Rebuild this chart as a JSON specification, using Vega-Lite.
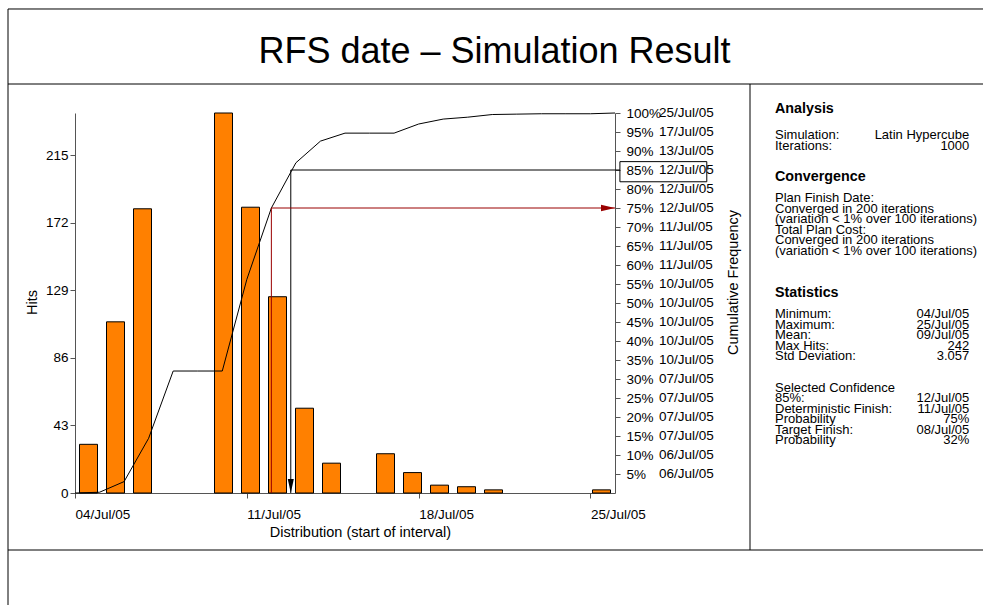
{
  "$schema": "https://vega.github.io/schema/vega-lite/v6.json",
  "width": 540,
  "height": 380,
  "autosize": {"type": "none"},
  "padding": {"left": 75, "top": 113, "right": 368, "bottom": 112},
  "view": {"stroke": null},
  "datasets": {
    "blank": [{"t": ""}],
    "hist": [
      {"date": "2005-07-04T13:12", "hits": 31},
      {"date": "2005-07-05T15:36", "hits": 109},
      {"date": "2005-07-06T18:00", "hits": 181},
      {"date": "2005-07-10T01:12", "hits": 242},
      {"date": "2005-07-11T03:36", "hits": 182},
      {"date": "2005-07-12T06:00", "hits": 125},
      {"date": "2005-07-13T08:24", "hits": 54},
      {"date": "2005-07-14T10:48", "hits": 19},
      {"date": "2005-07-16T15:36", "hits": 25},
      {"date": "2005-07-17T18:00", "hits": 13},
      {"date": "2005-07-18T20:24", "hits": 5},
      {"date": "2005-07-19T22:48", "hits": 4},
      {"date": "2005-07-21T01:12", "hits": 2},
      {"date": "2005-07-25T10:48", "hits": 2}
    ],
    "cum": [
      {"date": "2005-07-04T00:00", "pct": 0},
      {"date": "2005-07-05T00:00", "pct": 0.2},
      {"date": "2005-07-06T00:00", "pct": 3.0},
      {"date": "2005-07-07T00:00", "pct": 14.4},
      {"date": "2005-07-08T00:00", "pct": 32.1},
      {"date": "2005-07-09T00:00", "pct": 32.1},
      {"date": "2005-07-10T00:00", "pct": 32.1},
      {"date": "2005-07-11T00:00", "pct": 56.2},
      {"date": "2005-07-12T00:00", "pct": 75.0},
      {"date": "2005-07-13T00:00", "pct": 86.9},
      {"date": "2005-07-14T00:00", "pct": 92.6},
      {"date": "2005-07-15T00:00", "pct": 94.7},
      {"date": "2005-07-16T00:00", "pct": 94.7},
      {"date": "2005-07-17T00:00", "pct": 94.7},
      {"date": "2005-07-18T00:00", "pct": 97.1},
      {"date": "2005-07-19T00:00", "pct": 98.4},
      {"date": "2005-07-20T00:00", "pct": 98.9},
      {"date": "2005-07-21T00:00", "pct": 99.6},
      {"date": "2005-07-22T00:00", "pct": 99.7},
      {"date": "2005-07-23T00:00", "pct": 99.8},
      {"date": "2005-07-24T00:00", "pct": 99.8},
      {"date": "2005-07-25T00:00", "pct": 99.8},
      {"date": "2005-07-26T00:00", "pct": 100}
    ],
    "refs": [
      {"ref": "conf85", "step": 1, "date": "2005-07-26T04:48", "pct": 85},
      {"ref": "conf85", "step": 2, "date": "2005-07-12T19:00", "pct": 85},
      {"ref": "conf85", "step": 3, "date": "2005-07-12T19:00", "pct": 0},
      {"ref": "det", "step": 1, "date": "2005-07-12T00:00", "pct": 0},
      {"ref": "det", "step": 2, "date": "2005-07-12T00:00", "pct": 75},
      {"ref": "det", "step": 3, "date": "2005-07-26T00:00", "pct": 75}
    ],
    "rightLabels": [
      {"pct": 100, "label": "25/Jul/05"},
      {"pct": 95, "label": "17/Jul/05"},
      {"pct": 90, "label": "13/Jul/05"},
      {"pct": 85, "label": "12/Jul/05"},
      {"pct": 80, "label": "12/Jul/05"},
      {"pct": 75, "label": "12/Jul/05"},
      {"pct": 70, "label": "11/Jul/05"},
      {"pct": 65, "label": "11/Jul/05"},
      {"pct": 60, "label": "11/Jul/05"},
      {"pct": 55, "label": "10/Jul/05"},
      {"pct": 50, "label": "10/Jul/05"},
      {"pct": 45, "label": "10/Jul/05"},
      {"pct": 40, "label": "10/Jul/05"},
      {"pct": 35, "label": "10/Jul/05"},
      {"pct": 30, "label": "07/Jul/05"},
      {"pct": 25, "label": "07/Jul/05"},
      {"pct": 20, "label": "07/Jul/05"},
      {"pct": 15, "label": "07/Jul/05"},
      {"pct": 10, "label": "06/Jul/05"},
      {"pct": 5, "label": "06/Jul/05"}
    ],
    "stats": [
      {"line": 0, "kind": "header", "label": "Analysis", "value": ""},
      {"line": 5, "kind": "body", "label": "Simulation:", "value": "Latin Hypercube"},
      {"line": 7, "kind": "body", "label": "Iterations:", "value": "1000"},
      {"line": 13, "kind": "header", "label": "Convergence", "value": ""},
      {"line": 17, "kind": "body", "label": "Plan Finish Date:", "value": ""},
      {"line": 19, "kind": "body", "label": "Converged in 200 iterations", "value": ""},
      {"line": 21, "kind": "body", "label": "(variation < 1% over 100 iterations)", "value": ""},
      {"line": 23, "kind": "body", "label": "Total Plan Cost:", "value": ""},
      {"line": 25, "kind": "body", "label": "Converged in 200 iterations", "value": ""},
      {"line": 27, "kind": "body", "label": "(variation < 1% over 100 iterations)", "value": ""},
      {"line": 35, "kind": "header", "label": "Statistics", "value": ""},
      {"line": 39, "kind": "body", "label": "Minimum:", "value": "04/Jul/05"},
      {"line": 41, "kind": "body", "label": "Maximum:", "value": "25/Jul/05"},
      {"line": 43, "kind": "body", "label": "Mean:", "value": "09/Jul/05"},
      {"line": 45, "kind": "body", "label": "Max Hits:", "value": "242"},
      {"line": 47, "kind": "body", "label": "Std Deviation:", "value": "3.057"},
      {"line": 53, "kind": "body", "label": "Selected Confidence", "value": ""},
      {"line": 55, "kind": "body", "label": "85%:", "value": "12/Jul/05"},
      {"line": 57, "kind": "body", "label": "Deterministic Finish:", "value": "11/Jul/05"},
      {"line": 59, "kind": "body", "label": "Probability", "value": "75%"},
      {"line": 61, "kind": "body", "label": "Target Finish:", "value": "08/Jul/05"},
      {"line": 63, "kind": "body", "label": "Probability", "value": "32%"}
    ]
  },
  "layer": [
    {
      "layer": [
        {
          "data": {"name": "hist"},
          "mark": {"type": "bar", "width": 18, "fill": "#FF8000", "stroke": "black", "strokeWidth": 1},
          "encoding": {
            "x": {
              "field": "date", "type": "temporal",
              "scale": {"domain": [{"year": 2005, "month": 7, "date": 4}, {"year": 2005, "month": 7, "date": 26}], "padding": 0},
              "axis": {"orient": "bottom", "values": [{"year": 2005, "month": 7, "date": 4}, {"year": 2005, "month": 7, "date": 11}, {"year": 2005, "month": 7, "date": 18}, {"year": 2005, "month": 7, "date": 25}], "format": "%d/%b/%y", "labelAlign": "left", "labelFlush": false, "labelOverlap": false, "labelPadding": 9, "tickSize": 5, "title": "Distribution (start of interval)", "titleX": 285, "titleY": 39, "titleBaseline": "middle", "titleAlign": "center"}
            },
            "y": {
              "field": "hits", "type": "quantitative",
              "scale": {"domain": [0, 242]},
              "axis": {"orient": "left", "values": [0, 43, 86, 129, 172, 215], "labelPadding": 2, "tickSize": 5, "labelOverlap": false, "title": "Hits", "titleAngle": 270, "titleX": -43, "titleY": 189, "titleBaseline": "middle", "titleAlign": "center"}
            }
          }
        },
        {
          "layer": [
            {
              "data": {"name": "cum"},
              "mark": {"type": "line", "color": "black", "strokeWidth": 1},
              "encoding": {
                "x": {"field": "date", "type": "temporal",
                  "scale": {"domain": [{"year": 2005, "month": 7, "date": 4}, {"year": 2005, "month": 7, "date": 26}], "padding": 0},
                  "axis": {"orient": "bottom", "values": [{"year": 2005, "month": 7, "date": 4}, {"year": 2005, "month": 7, "date": 11}, {"year": 2005, "month": 7, "date": 18}, {"year": 2005, "month": 7, "date": 25}], "format": "%d/%b/%y", "labelAlign": "left", "labelFlush": false, "labelOverlap": false, "labelPadding": 9, "tickSize": 5, "title": "Distribution (start of interval)", "titleX": 285, "titleY": 39, "titleBaseline": "middle", "titleAlign": "center"}},
                "y": {"field": "pct", "type": "quantitative",
                  "scale": {"domain": [0, 100]},
                  "axis": {"orient": "right", "values": [5, 10, 15, 20, 25, 30, 35, 40, 45, 50, 55, 60, 65, 70, 75, 80, 85, 90, 95, 100], "labelExpr": "datum.value + '%'", "labelPadding": 6, "tickSize": 5, "labelOverlap": false, "labelFlush": false, "labelBound": false, "title": "Cumulative Frequency", "titleAngle": 270, "titleX": 118, "titleY": 169, "titleBaseline": "middle", "titleAlign": "center"}}
              }
            },
            {
              "data": {"name": "refs"},
              "mark": {"type": "line", "strokeWidth": 1},
              "encoding": {
                "x": {"field": "date", "type": "temporal",
                  "scale": {"domain": [{"year": 2005, "month": 7, "date": 4}, {"year": 2005, "month": 7, "date": 26}], "padding": 0},
                  "axis": {"orient": "bottom", "values": [{"year": 2005, "month": 7, "date": 4}, {"year": 2005, "month": 7, "date": 11}, {"year": 2005, "month": 7, "date": 18}, {"year": 2005, "month": 7, "date": 25}], "format": "%d/%b/%y", "labelAlign": "left", "labelFlush": false, "labelOverlap": false, "labelPadding": 9, "tickSize": 5, "title": "Distribution (start of interval)", "titleX": 285, "titleY": 39, "titleBaseline": "middle", "titleAlign": "center"}},
                "y": {"field": "pct", "type": "quantitative",
                  "scale": {"domain": [0, 100]},
                  "axis": {"orient": "right", "values": [5, 10, 15, 20, 25, 30, 35, 40, 45, 50, 55, 60, 65, 70, 75, 80, 85, 90, 95, 100], "labelExpr": "datum.value + '%'", "labelPadding": 6, "tickSize": 5, "labelOverlap": false, "labelFlush": false, "labelBound": false, "title": "Cumulative Frequency", "titleAngle": 270, "titleX": 118, "titleY": 169, "titleBaseline": "middle", "titleAlign": "center"}},
                "order": {"field": "step"},
                "detail": {"field": "ref"},
                "color": {"field": "ref", "type": "nominal", "scale": {"domain": ["conf85", "det"], "range": ["black", "#990000"]}, "legend": null}
              }
            },
            {
              "data": {"name": "refs"},
              "transform": [{"filter": "datum.step === 3"}],
              "mark": {"type": "point", "filled": true, "size": 196, "opacity": 1, "strokeWidth": 0},
              "encoding": {
                "x": {"field": "date", "type": "temporal",
                  "scale": {"domain": [{"year": 2005, "month": 7, "date": 4}, {"year": 2005, "month": 7, "date": 26}], "padding": 0},
                  "axis": {"orient": "bottom", "values": [{"year": 2005, "month": 7, "date": 4}, {"year": 2005, "month": 7, "date": 11}, {"year": 2005, "month": 7, "date": 18}, {"year": 2005, "month": 7, "date": 25}], "format": "%d/%b/%y", "labelAlign": "left", "labelFlush": false, "labelOverlap": false, "labelPadding": 9, "tickSize": 5, "title": "Distribution (start of interval)", "titleX": 285, "titleY": 39, "titleBaseline": "middle", "titleAlign": "center"}},
                "y": {"field": "pct", "type": "quantitative",
                  "scale": {"domain": [0, 100]},
                  "axis": {"orient": "right", "values": [5, 10, 15, 20, 25, 30, 35, 40, 45, 50, 55, 60, 65, 70, 75, 80, 85, 90, 95, 100], "labelExpr": "datum.value + '%'", "labelPadding": 6, "tickSize": 5, "labelOverlap": false, "labelFlush": false, "labelBound": false, "title": "Cumulative Frequency", "titleAngle": 270, "titleX": 118, "titleY": 169, "titleBaseline": "middle", "titleAlign": "center"}},
                "shape": {"field": "ref", "type": "nominal", "scale": {"domain": ["conf85", "det"], "range": ["M-0.43,-2L0.43,-2L0,0Z", "M-2,-0.45L-2,0.45L0,0Z"]}, "legend": null},
                "color": {"field": "ref", "type": "nominal", "scale": {"domain": ["conf85", "det"], "range": ["black", "#990000"]}, "legend": null}
              }
            },
            {
              "data": {"name": "rightLabels"},
              "mark": {"type": "text", "align": "left", "baseline": "middle", "dx": 44, "fontSize": 13.5, "color": "black"},
              "encoding": {
                "x": {"datum": {"year": 2005, "month": 7, "date": 26}, "type": "temporal",
                  "scale": {"domain": [{"year": 2005, "month": 7, "date": 4}, {"year": 2005, "month": 7, "date": 26}], "padding": 0},
                  "axis": {"orient": "bottom", "values": [{"year": 2005, "month": 7, "date": 4}, {"year": 2005, "month": 7, "date": 11}, {"year": 2005, "month": 7, "date": 18}, {"year": 2005, "month": 7, "date": 25}], "format": "%d/%b/%y", "labelAlign": "left", "labelFlush": false, "labelOverlap": false, "labelPadding": 9, "tickSize": 5, "title": "Distribution (start of interval)", "titleX": 285, "titleY": 39, "titleBaseline": "middle", "titleAlign": "center"}},
                "y": {"field": "pct", "type": "quantitative",
                  "scale": {"domain": [0, 100]},
                  "axis": {"orient": "right", "values": [5, 10, 15, 20, 25, 30, 35, 40, 45, 50, 55, 60, 65, 70, 75, 80, 85, 90, 95, 100], "labelExpr": "datum.value + '%'", "labelPadding": 6, "tickSize": 5, "labelOverlap": false, "labelFlush": false, "labelBound": false, "title": "Cumulative Frequency", "titleAngle": 270, "titleX": 118, "titleY": 169, "titleBaseline": "middle", "titleAlign": "center"}},
                "text": {"field": "label"}
              }
            },
            {
              "data": {"name": "blank"},
              "mark": {"type": "rect", "filled": false, "stroke": "black", "strokeWidth": 1},
              "encoding": {
                "x": {"datum": {"year": 2005, "month": 7, "date": 26, "hours": 4, "minutes": 48}, "type": "temporal",
                  "scale": {"domain": [{"year": 2005, "month": 7, "date": 4}, {"year": 2005, "month": 7, "date": 26}], "padding": 0},
                  "axis": {"orient": "bottom", "values": [{"year": 2005, "month": 7, "date": 4}, {"year": 2005, "month": 7, "date": 11}, {"year": 2005, "month": 7, "date": 18}, {"year": 2005, "month": 7, "date": 25}], "format": "%d/%b/%y", "labelAlign": "left", "labelFlush": false, "labelOverlap": false, "labelPadding": 9, "tickSize": 5, "title": "Distribution (start of interval)", "titleX": 285, "titleY": 39, "titleBaseline": "middle", "titleAlign": "center"}},
                "x2": {"datum": {"year": 2005, "month": 7, "date": 29, "hours": 17, "minutes": 45}},
                "y": {"datum": 87.2, "type": "quantitative",
                  "scale": {"domain": [0, 100]},
                  "axis": {"orient": "right", "values": [5, 10, 15, 20, 25, 30, 35, 40, 45, 50, 55, 60, 65, 70, 75, 80, 85, 90, 95, 100], "labelExpr": "datum.value + '%'", "labelPadding": 6, "tickSize": 5, "labelOverlap": false, "labelFlush": false, "labelBound": false, "title": "Cumulative Frequency", "titleAngle": 270, "titleX": 118, "titleY": 169, "titleBaseline": "middle", "titleAlign": "center"}},
                "y2": {"datum": 81.9}
              }
            },
            {
              "data": {"name": "blank"},
              "mark": {"type": "rule", "color": "black", "strokeWidth": 1},
              "encoding": {
                "x": {"datum": {"year": 2005, "month": 7, "date": 1, "hours": 6, "minutes": 30}, "type": "temporal",
                  "scale": {"domain": [{"year": 2005, "month": 7, "date": 4}, {"year": 2005, "month": 7, "date": 26}], "padding": 0},
                  "axis": {"orient": "bottom", "values": [{"year": 2005, "month": 7, "date": 4}, {"year": 2005, "month": 7, "date": 11}, {"year": 2005, "month": 7, "date": 18}, {"year": 2005, "month": 7, "date": 25}], "format": "%d/%b/%y", "labelAlign": "left", "labelFlush": false, "labelOverlap": false, "labelPadding": 9, "tickSize": 5, "title": "Distribution (start of interval)", "titleX": 285, "titleY": 39, "titleBaseline": "middle", "titleAlign": "center"}},
                "x2": {"datum": {"year": 2005, "month": 8, "date": 10}},
                "y": {"datum": 127.37, "type": "quantitative",
                  "scale": {"domain": [0, 100]},
                  "axis": {"orient": "right", "values": [5, 10, 15, 20, 25, 30, 35, 40, 45, 50, 55, 60, 65, 70, 75, 80, 85, 90, 95, 100], "labelExpr": "datum.value + '%'", "labelPadding": 6, "tickSize": 5, "labelOverlap": false, "labelFlush": false, "labelBound": false, "title": "Cumulative Frequency", "titleAngle": 270, "titleX": 118, "titleY": 169, "titleBaseline": "middle", "titleAlign": "center"}}
              }
            },
            {
              "data": {"name": "blank"},
              "mark": {"type": "rule", "color": "black", "strokeWidth": 1},
              "encoding": {
                "x": {"datum": {"year": 2005, "month": 7, "date": 1, "hours": 6, "minutes": 30}, "type": "temporal",
                  "scale": {"domain": [{"year": 2005, "month": 7, "date": 4}, {"year": 2005, "month": 7, "date": 26}], "padding": 0},
                  "axis": {"orient": "bottom", "values": [{"year": 2005, "month": 7, "date": 4}, {"year": 2005, "month": 7, "date": 11}, {"year": 2005, "month": 7, "date": 18}, {"year": 2005, "month": 7, "date": 25}], "format": "%d/%b/%y", "labelAlign": "left", "labelFlush": false, "labelOverlap": false, "labelPadding": 9, "tickSize": 5, "title": "Distribution (start of interval)", "titleX": 285, "titleY": 39, "titleBaseline": "middle", "titleAlign": "center"}},
                "x2": {"datum": {"year": 2005, "month": 8, "date": 10}},
                "y": {"datum": 107.63, "type": "quantitative",
                  "scale": {"domain": [0, 100]},
                  "axis": {"orient": "right", "values": [5, 10, 15, 20, 25, 30, 35, 40, 45, 50, 55, 60, 65, 70, 75, 80, 85, 90, 95, 100], "labelExpr": "datum.value + '%'", "labelPadding": 6, "tickSize": 5, "labelOverlap": false, "labelFlush": false, "labelBound": false, "title": "Cumulative Frequency", "titleAngle": 270, "titleX": 118, "titleY": 169, "titleBaseline": "middle", "titleAlign": "center"}}
              }
            },
            {
              "data": {"name": "blank"},
              "mark": {"type": "rule", "color": "black", "strokeWidth": 1},
              "encoding": {
                "x": {"datum": {"year": 2005, "month": 7, "date": 1, "hours": 6, "minutes": 30}, "type": "temporal",
                  "scale": {"domain": [{"year": 2005, "month": 7, "date": 4}, {"year": 2005, "month": 7, "date": 26}], "padding": 0},
                  "axis": {"orient": "bottom", "values": [{"year": 2005, "month": 7, "date": 4}, {"year": 2005, "month": 7, "date": 11}, {"year": 2005, "month": 7, "date": 18}, {"year": 2005, "month": 7, "date": 25}], "format": "%d/%b/%y", "labelAlign": "left", "labelFlush": false, "labelOverlap": false, "labelPadding": 9, "tickSize": 5, "title": "Distribution (start of interval)", "titleX": 285, "titleY": 39, "titleBaseline": "middle", "titleAlign": "center"}},
                "x2": {"datum": {"year": 2005, "month": 8, "date": 10}},
                "y": {"datum": -15.0, "type": "quantitative",
                  "scale": {"domain": [0, 100]},
                  "axis": {"orient": "right", "values": [5, 10, 15, 20, 25, 30, 35, 40, 45, 50, 55, 60, 65, 70, 75, 80, 85, 90, 95, 100], "labelExpr": "datum.value + '%'", "labelPadding": 6, "tickSize": 5, "labelOverlap": false, "labelFlush": false, "labelBound": false, "title": "Cumulative Frequency", "titleAngle": 270, "titleX": 118, "titleY": 169, "titleBaseline": "middle", "titleAlign": "center"}}
              }
            },
            {
              "data": {"name": "blank"},
              "mark": {"type": "rule", "color": "black", "strokeWidth": 1},
              "encoding": {
                "x": {"datum": {"year": 2005, "month": 7, "date": 1, "hours": 6, "minutes": 30}, "type": "temporal",
                  "scale": {"domain": [{"year": 2005, "month": 7, "date": 4}, {"year": 2005, "month": 7, "date": 26}], "padding": 0},
                  "axis": {"orient": "bottom", "values": [{"year": 2005, "month": 7, "date": 4}, {"year": 2005, "month": 7, "date": 11}, {"year": 2005, "month": 7, "date": 18}, {"year": 2005, "month": 7, "date": 25}], "format": "%d/%b/%y", "labelAlign": "left", "labelFlush": false, "labelOverlap": false, "labelPadding": 9, "tickSize": 5, "title": "Distribution (start of interval)", "titleX": 285, "titleY": 39, "titleBaseline": "middle", "titleAlign": "center"}},
                "y": {"datum": 127.37, "type": "quantitative",
                  "scale": {"domain": [0, 100]},
                  "axis": {"orient": "right", "values": [5, 10, 15, 20, 25, 30, 35, 40, 45, 50, 55, 60, 65, 70, 75, 80, 85, 90, 95, 100], "labelExpr": "datum.value + '%'", "labelPadding": 6, "tickSize": 5, "labelOverlap": false, "labelFlush": false, "labelBound": false, "title": "Cumulative Frequency", "titleAngle": 270, "titleX": 118, "titleY": 169, "titleBaseline": "middle", "titleAlign": "center"}},
                "y2": {"datum": -30}
              }
            },
            {
              "data": {"name": "blank"},
              "mark": {"type": "rule", "color": "black", "strokeWidth": 1},
              "encoding": {
                "x": {"datum": {"year": 2005, "month": 7, "date": 31, "hours": 12}, "type": "temporal",
                  "scale": {"domain": [{"year": 2005, "month": 7, "date": 4}, {"year": 2005, "month": 7, "date": 26}], "padding": 0},
                  "axis": {"orient": "bottom", "values": [{"year": 2005, "month": 7, "date": 4}, {"year": 2005, "month": 7, "date": 11}, {"year": 2005, "month": 7, "date": 18}, {"year": 2005, "month": 7, "date": 25}], "format": "%d/%b/%y", "labelAlign": "left", "labelFlush": false, "labelOverlap": false, "labelPadding": 9, "tickSize": 5, "title": "Distribution (start of interval)", "titleX": 285, "titleY": 39, "titleBaseline": "middle", "titleAlign": "center"}},
                "y": {"datum": 107.63, "type": "quantitative",
                  "scale": {"domain": [0, 100]},
                  "axis": {"orient": "right", "values": [5, 10, 15, 20, 25, 30, 35, 40, 45, 50, 55, 60, 65, 70, 75, 80, 85, 90, 95, 100], "labelExpr": "datum.value + '%'", "labelPadding": 6, "tickSize": 5, "labelOverlap": false, "labelFlush": false, "labelBound": false, "title": "Cumulative Frequency", "titleAngle": 270, "titleX": 118, "titleY": 169, "titleBaseline": "middle", "titleAlign": "center"}},
                "y2": {"datum": -15.0}
              }
            }
          ]
        }
      ],
      "resolve": {"scale": {"y": "independent"}, "axis": {"y": "independent"}}
    },
    {
      "data": {"name": "stats"},
      "layer": [
        {
          "transform": [{"filter": "datum.kind === 'header'"}],
          "mark": {"type": "text", "align": "left", "baseline": "middle", "fontWeight": "bold", "fontSize": 14.3, "color": "black"},
          "encoding": {
            "x": {"datum": 0, "type": "quantitative", "scale": {"domain": [-3.6027, -0.8235], "nice": false, "zero": false}, "axis": {"orient": "top", "domain": false, "ticks": false, "labels": false, "grid": false, "title": null}},
            "y": {"field": "line", "type": "quantitative", "scale": {"domain": [0.742, 73.068], "reverse": true, "nice": false, "zero": false}, "axis": {"orient": "left", "domain": false, "ticks": false, "labels": false, "grid": false, "title": null}},
            "text": {"field": "label"}
          }
        },
        {
          "transform": [{"filter": "datum.kind === 'body'"}],
          "mark": {"type": "text", "align": "left", "baseline": "middle", "fontSize": 13, "color": "black"},
          "encoding": {
            "x": {"datum": 0, "type": "quantitative", "scale": {"domain": [-3.6027, -0.8235], "nice": false, "zero": false}, "axis": {"orient": "top", "domain": false, "ticks": false, "labels": false, "grid": false, "title": null}},
            "y": {"field": "line", "type": "quantitative", "scale": {"domain": [0.742, 73.068], "reverse": true, "nice": false, "zero": false}, "axis": {"orient": "left", "domain": false, "ticks": false, "labels": false, "grid": false, "title": null}},
            "text": {"field": "label"}
          }
        },
        {
          "transform": [{"filter": "datum.value !== ''"}],
          "mark": {"type": "text", "align": "right", "baseline": "middle", "fontSize": 13, "color": "black"},
          "encoding": {
            "x": {"datum": 1, "type": "quantitative", "scale": {"domain": [-3.6027, -0.8235], "nice": false, "zero": false}, "axis": {"orient": "top", "domain": false, "ticks": false, "labels": false, "grid": false, "title": null}},
            "y": {"field": "line", "type": "quantitative", "scale": {"domain": [0.742, 73.068], "reverse": true, "nice": false, "zero": false}, "axis": {"orient": "left", "domain": false, "ticks": false, "labels": false, "grid": false, "title": null}},
            "text": {"field": "value"}
          }
        }
      ]
    },
    {
      "data": {"values": [{"title": "RFS date – Simulation Result"}]},
      "mark": {"type": "text", "align": "center", "baseline": "middle", "dx": 149.5, "dy": -251, "fontSize": 36, "font": "Liberation Sans", "color": "black"},
      "encoding": {"text": {"field": "title"}}
    }
  ],
  "resolve": {"scale": {"x": "independent", "y": "independent"}, "axis": {"x": "independent", "y": "independent"}},
  "config": {
    "font": "Liberation Sans",
    "axis": {
      "grid": false, "domainColor": "#555", "tickColor": "#555", "labelColor": "black", "titleColor": "black",
      "labelFontSize": 13.5, "titleFontSize": 14.5, "titleFontWeight": "normal",
      "labelFont": "Liberation Sans", "titleFont": "Liberation Sans"
    },
    "text": {"font": "Liberation Sans"}
  }
}
